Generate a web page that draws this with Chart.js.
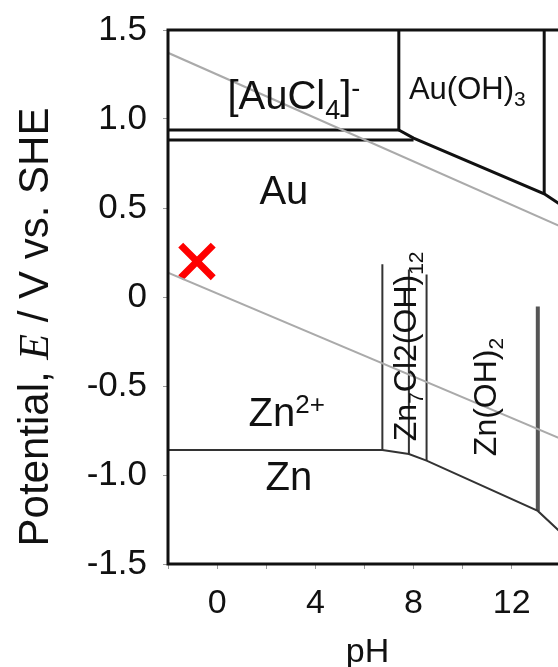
<!DOCTYPE html>
<html>
<head>
<meta charset="utf-8">
<script src="https://cdn.jsdelivr.net/npm/chart.js@4.4.1/dist/chart.umd.min.js"></script>
<style>
  html, body { margin: 0; padding: 0; background: #fff; overflow: hidden; }
  #wrap { width: 640px; height: 667px; }
</style>
</head>
<body>
<div id="wrap"><canvas id="grafica" width="640" height="667"></canvas></div>
<script>
const xTicks = [0, 4, 8, 12];
const yTicks = [-1.5, -1.0, -0.5, 0, 0.5, 1.0, 1.5];

const o2Line_pH = [-2, 16];
const o2Line_E = [1.372, 0.274];
const h2Line_pH = [-2, 16];
const h2Line_E = [0.137, -0.914];

const auCl4Top_pH = [-2, 7.40, 7.40];
const auCl4Top_E = [0.938, 0.938, 1.5];
const auCl4Low_pH = [-2, 8.0];
const auCl4Low_E = [0.882, 0.882];
const auOH3Low_pH = [7.40, 8.0, 13.32, 14.5];
const auOH3Low_E = [0.938, 0.893, 0.580, 0.472];
const auOH3Right_pH = [13.32, 13.32];
const auOH3Right_E = [0.580, 1.5];

const znLow_pH = [-2, 6.73, 7.81, 8.53, 13.06, 14.5];
const znLow_E = [-0.860, -0.860, -0.882, -0.919, -1.202, -1.388];
const znV1_pH = [6.73, 6.73];
const znV1_E = [0.184, -0.860];
const znV2_pH = [7.81, 7.81];
const znV2_E = [0.155, -0.882];
const znV3_pH = [8.53, 8.53];
const znV3_E = [0.126, -0.919];
const znV4_pH = [13.06, 13.06];
const znV4_E = [-0.053, -1.202];

const marca_pH = [-0.82];
const marca_E = [0.20];

const SANS = '"Liberation Sans", Arial, sans-serif';
const SERIF = '"Liberation Serif", "Times New Roman", serif';
function f(size) { return size + 'px ' + SANS; }

function pts(xs, ys) {
    return xs.map(function (x, i) { return { x: x, y: ys[i] }; });
}

function linea(xs, ys, color, ancho) {
    return {
        data: pts(xs, ys),
        showLine: true,
        borderColor: color,
        borderWidth: ancho,
        pointRadius: 0,
        fill: false,
        tension: 0
    };
}

// etiquetas de las regiones (posicion en pH / E)
const etiquetas = [
    { pH: 0.42, E: 1.058, align: 'left', segs: [
        { t: '[AuCl', f: f(40) }, { t: '4', f: f(27), dy: 10 },
        { t: ']', f: f(40) }, { t: '-', f: f(27), dy: -12 }] },
    { pH: 7.81, E: 1.114, align: 'left', segs: [
        { t: 'Au(OH)', f: f(31) }, { t: '3', f: f(21), dy: 7 }] },
    { pH: 2.72, E: 0.525, align: 'center', segs: [{ t: 'Au', f: f(40) }] },
    { pH: 1.28, E: -0.725, align: 'left', segs: [
        { t: 'Zn', f: f(40) }, { t: '2+', f: f(26), dy: -13 }] },
    { pH: 2.92, E: -1.084, align: 'center', segs: [{ t: 'Zn', f: f(40) }] },
    { pH: 8.1, E: -0.81, align: 'left', rot: -Math.PI / 2, segs: [
        { t: 'Zn', f: f(32) }, { t: '7', f: f(21), dy: 7 },
        { t: 'Cl2(OH)', f: f(32) }, { t: '12', f: f(21), dy: 7 }] },
    { pH: 11.36, E: -0.894, align: 'left', rot: -Math.PI / 2, segs: [
        { t: 'Zn(OH)', f: f(32) }, { t: '2', f: f(21), dy: 7 }] }
];

function drawRich(ctx, x, y, segs, rot, align) {
    ctx.save();
    ctx.translate(x, y);
    if (rot) ctx.rotate(rot);
    let w = 0;
    segs.forEach(function (s) { ctx.font = s.f; w += ctx.measureText(s.t).width; });
    let cx = align === 'center' ? -w / 2 : 0;
    ctx.textAlign = 'left';
    ctx.textBaseline = 'alphabetic';
    ctx.fillStyle = '#111';
    segs.forEach(function (s) {
        ctx.font = s.f;
        ctx.fillText(s.t, cx, s.dy || 0);
        cx += ctx.measureText(s.t).width;
    });
    ctx.restore();
}

const textos = {
    id: 'textos',
    afterDatasetsDraw: function (chart) {
        const ctx = chart.ctx;
        const a = chart.chartArea;
        const sx = chart.scales.x, sy = chart.scales.y;
        // marco
        ctx.save();
        ctx.strokeStyle = '#111';
        ctx.lineWidth = 3;
        ctx.strokeRect(a.left, a.top, a.right - a.left, a.bottom - a.top);
        ctx.restore();

        etiquetas.forEach(function (e) {
            drawRich(ctx, sx.getPixelForValue(e.pH), sy.getPixelForValue(e.E), e.segs, e.rot, e.align);
        });

        // titulos de ejes
        drawRich(ctx, 48, 327, [
            { t: 'Potential, ', f: f(42) },
            { t: 'E', f: 'italic 42px ' + SERIF },
            { t: ' / V vs. SHE', f: f(42) }
        ], -Math.PI / 2, 'center');
        drawRich(ctx, 367.5, 661.7, [{ t: 'pH', f: f(34) }], 0, 'center');
    }
};

const ctx = document.getElementById('grafica').getContext('2d');

const config = {
    type: 'scatter',
    data: {
        datasets: [
            linea(o2Line_pH, o2Line_E, '#aaa', 2),
            linea(h2Line_pH, h2Line_E, '#aaa', 2),
            linea(auCl4Top_pH, auCl4Top_E, '#111', 3),
            linea(auCl4Low_pH, auCl4Low_E, '#111', 3),
            linea(auOH3Low_pH, auOH3Low_E, '#111', 3),
            linea(auOH3Right_pH, auOH3Right_E, '#111', 3),
            linea(znLow_pH, znLow_E, '#333', 2),
            linea(znV1_pH, znV1_E, '#333', 2),
            linea(znV2_pH, znV2_E, '#333', 2),
            linea(znV3_pH, znV3_E, '#333', 2),
            linea(znV4_pH, znV4_E, '#555', 4),
            {
                data: pts(marca_pH, marca_E),
                pointStyle: 'crossRot',
                pointRadius: 23,
                borderColor: '#f00',
                borderWidth: 7,
                showLine: false
            }
        ]
    },
    options: {
        responsive: false,
        devicePixelRatio: 1,
        animation: false,
        layout: { padding: { left: 0, top: 24, right: 30, bottom: 0 } },
        plugins: {
            legend: { display: false },
            tooltip: { enabled: false },
            title: { display: false }
        },
        scales: {
            x: {
                type: 'linear',
                min: -2,
                max: 16,
                afterBuildTicks: function (s) {
                    const t = [];
                    for (let v = -2; v <= 16; v += 2) t.push({ value: v });
                    s.ticks = t;
                },
                afterFit: function (s) {
                    s.height = 103;
                    s.paddingLeft = 0;
                    s.paddingRight = 0;
                },
                ticks: {
                    autoSkip: false,
                    maxRotation: 0,
                    padding: 14,
                    color: '#111',
                    font: { family: SANS, size: 34 },
                    callback: function (v) { return xTicks.includes(v) ? String(v) : ''; }
                },
                grid: { display: true, drawOnChartArea: false, tickLength: 5, color: '#999' },
                border: { display: false }
            },
            y: {
                min: -1.5,
                max: 1.5,
                afterBuildTicks: function (s) {
                    s.ticks = yTicks.map(function (v) { return { value: v }; });
                },
                afterFit: function (s) {
                    s.width = 168;
                    s.paddingTop = 0;
                    s.paddingBottom = 0;
                },
                ticks: {
                    padding: 16,
                    color: '#111',
                    font: { family: SANS, size: 35 },
                    callback: function (v) { return v === 0 ? '0' : v.toFixed(1); }
                },
                grid: { display: true, drawOnChartArea: false, tickLength: 5, color: '#999' },
                border: { display: false }
            }
        }
    },
    plugins: [textos]
};

const chart = new Chart(ctx, config);
</script>
</body>
</html>
